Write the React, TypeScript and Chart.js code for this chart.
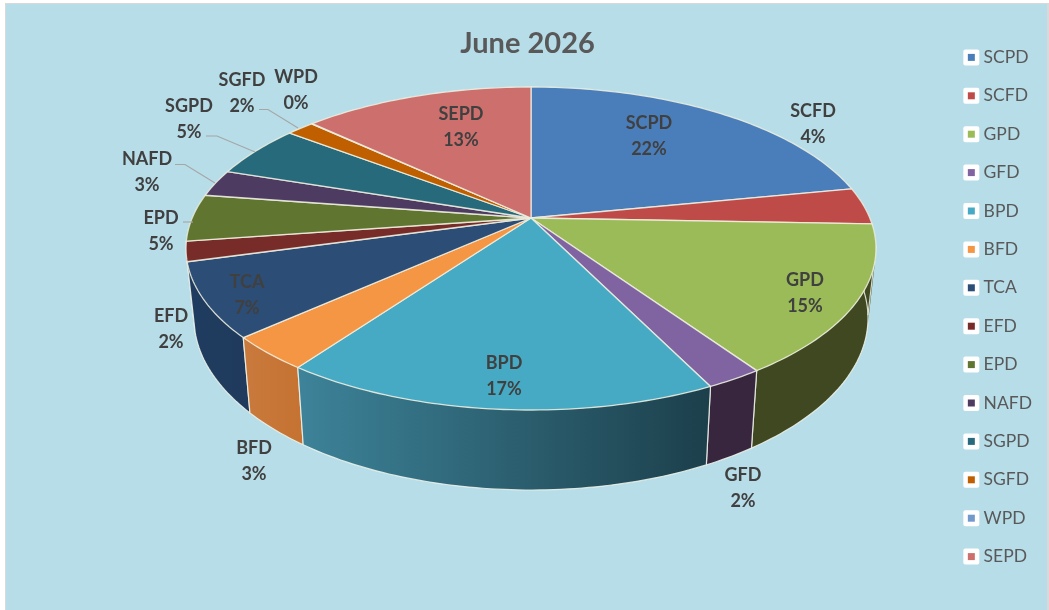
import React, { useEffect, useRef } from "react";
import { Chart, registerables } from "chart.js";

Chart.register(...registerables);

const categories = ["SCPD","SCFD","GPD","GFD","BPD","BFD","TCA","EFD","EPD","NAFD","SGPD","SGFD","WPD","SEPD"];
const shareValues = [21.9,3.7,14.9,2.25,17.15,3.4,7.4,2.0,4.7,2.7,5.3,1.55,0.05,13.0];
const sliceColors = ["#4A7EBB","#BE4B48","#9BBB59","#8064A2","#46AAC4","#F59645","#2C4D75","#772C2A","#5F7530","#4D3B62","#276A7C","#C05F00","#7299CC","#CD6F6D"];
const wallFrom = ["#2C4D75","#7A2F2D","#3F4820","#38263F","#3D8399","#C97A3C","#1F3C60","#4D1C1B","#3D4C1F","#322640","#1A4551","#7A3C00","#4A6C94","#8A4A48"];
const wallTo = ["#2C4D75","#7A2F2D","#3F4820","#38263F","#1C3F4B","#C57232","#1F3A5C","#4D1C1B","#3D4C1F","#322640","#1A4551","#7A3C00","#4A6C94","#8A4A48"];
const labelCentres = [[649,122],[813,110],[805,279],[743,474],[504,362],[254,447],[247,281],[171,315],[161,217],[147,158],[189,105],[242,79],[296,76],[461,113]];
const leaderLines = [
  [[259,109.5],[268,109.5],[298,128]],
  [[206,136],[217,136],[255,152]],
  [[175,164.5],[185,164.5],[215,183]],
  [[183,222],[193,222]],
];

const PERSP = 0.1889;
const DEG = Math.PI / 180;
const TOP_RIM = { cx: 531, cy: 248.5, rx: 345, ry: 161.5 };
const BOTTOM_RIM = { cx: 531, cy: 318, rx: 337, ry: 172 };

function project(e: any, t: number): [number, number] {
  const X = Math.sin(t), Y = -Math.cos(t), w = 1 - PERSP * Y;
  const k = Math.sqrt(1 - PERSP * PERSP);
  return [e.cx + (e.rx * k * X) / w, e.cy - e.ry * PERSP + (e.ry * k * k * Y) / w];
}
function rimPoints(e: any, a: number, b: number) {
  const n = Math.max(2, Math.ceil((b - a) / DEG));
  const pts: [number, number][] = [];
  for (let i = 0; i <= n; i++) pts.push(project(e, a + ((b - a) * i) / n));
  return pts;
}
function tracePath(ctx: any, pts: number[][]) {
  ctx.beginPath();
  pts.forEach((p, j) => (j ? ctx.lineTo(p[0], p[1]) : ctx.moveTo(p[0], p[1])));
}
function signedArea(q: number[][]) {
  let s = 0;
  q.forEach((p, i) => {
    const n = q[(i + 1) % q.length];
    s += p[0] * n[1] - n[0] * p[1];
  });
  return s;
}

const pieStage = {
  id: "pieStage",
  beforeDraw(chart: any) {
    const { ctx, width, height } = chart;
    ctx.save();
    ctx.fillStyle = "#ffffff";
    ctx.fillRect(0, 0, width, height);
    ctx.fillStyle = "#D9D9D9";
    ctx.fillRect(5, 3, width - 5, height - 3);
    ctx.fillStyle = "#B7DDE8";
    ctx.fillRect(6, 4, 1041, height - 4);
    (chart.legend?.legendHitBoxes || []).forEach((h: any) => {
      const mid = h.top + h.height / 2;
      ctx.fillStyle = "#ffffff";
      ctx.beginPath();
      ctx.roundRect(h.left + 3.5 - 8, mid - 8, 16, 16, 2);
      ctx.fill();
    });
    ctx.restore();
  },
  beforeDatasetDraw(chart: any, args: any) {
    const { ctx } = chart;
    const spans = args.meta.data.map((arc: any, i: number) => ({
      i,
      a: arc.startAngle + Math.PI / 2,
      b: arc.endAngle + Math.PI / 2,
    }));
    ctx.save();
    ctx.lineJoin = "round";
    const edge = "rgba(240,245,235,0.85)";
    const walls = spans
      .filter((s: any) => s.b > 85 * DEG && s.a < 275 * DEG)
      .sort((p: any, q: any) => Math.cos((q.a + q.b) / 2) - Math.cos((p.a + p.b) / 2));
    walls.forEach((s: any) => {
      const top = rimPoints(TOP_RIM, s.a, s.b);
      const bot = rimPoints(BOTTOM_RIM, s.a, s.b);
      const xs = top.concat(bot).map((p) => p[0]);
      const g = ctx.createLinearGradient(Math.min(...xs), 0, Math.max(...xs), 0);
      g.addColorStop(0, wallFrom[s.i]);
      g.addColorStop(1, wallTo[s.i]);
      ctx.fillStyle = g;
      ctx.beginPath();
      for (let j = 0; j < top.length - 1; j++) {
        let quad = [top[j], top[j + 1], bot[j + 1], bot[j]];
        if (signedArea(quad) < 0) quad = quad.reverse();
        quad.forEach((p, m) => (m ? ctx.lineTo(p[0], p[1]) : ctx.moveTo(p[0], p[1])));
        ctx.closePath();
      }
      ctx.fill("nonzero");
      ctx.strokeStyle = edge;
      ctx.lineWidth = 1.2;
      tracePath(ctx, [top[0], ...bot, top[top.length - 1]]);
      ctx.stroke();
    });
    // silhouette edge on the right-hand side of the wall
    ctx.strokeStyle = edge;
    ctx.lineWidth = 1.2;
    tracePath(ctx, [project(TOP_RIM, 100 * DEG), project(BOTTOM_RIM, 100 * DEG)]);
    ctx.stroke();
    // top face
    const centre = [TOP_RIM.cx, TOP_RIM.cy - TOP_RIM.ry * PERSP];
    spans.forEach((s: any) => {
      tracePath(ctx, [centre, ...rimPoints(TOP_RIM, s.a, s.b)]);
      ctx.closePath();
      ctx.fillStyle = sliceColors[s.i];
      ctx.fill();
      ctx.strokeStyle = "rgba(240,240,225,0.85)";
      ctx.lineWidth = 1.3;
      ctx.stroke();
    });
    ctx.restore();
    return false;
  },
  afterDatasetsDraw(chart: any) {
    const { ctx } = chart;
    ctx.save();
    ctx.strokeStyle = "#A6A6A6";
    ctx.lineWidth = 1.1;
    leaderLines.forEach((line) => {
      tracePath(ctx, line);
      ctx.stroke();
    });
    ctx.font = "bold 18px Lato";
    ctx.fillStyle = "#404040";
    ctx.textAlign = "center";
    ctx.textBaseline = "middle";
    categories.forEach((name, i) => {
      const [x, y] = labelCentres[i];
      ctx.fillText(name, x, y + 1.5);
      ctx.fillText(`${Math.round(shareValues[i])}%`, x, y + 27);
    });
    ctx.restore();
  },
};

export default function App() {
  const ref = useRef<HTMLCanvasElement | null>(null);
  useEffect(() => {
    const chart = new Chart(ref.current as HTMLCanvasElement, {
      type: "pie",
      data: {
        labels: categories,
        datasets: [{ data: shareValues, backgroundColor: sliceColors, clip: false } as any],
      },
      options: {
        responsive: false,
        animation: false,
        layout: { padding: { left: 13, right: 7, top: 4, bottom: 0 } },
        plugins: {
          tooltip: { enabled: false },
          title: {
            display: true,
            text: "June 2026",
            color: "#595959",
            font: { family: "Lato", size: 29, weight: "bold" },
            padding: { top: 22.5, bottom: 10 },
          },
          legend: {
            position: "right",
            labels: {
              boxWidth: 7,
              boxHeight: 7,
              padding: 20.9,
              color: "#595959",
              font: { family: "Lato", size: 17.5 },
              generateLabels: () =>
                categories.map((text, i) => ({
                  text,
                  fillStyle: sliceColors[i],
                  strokeStyle: sliceColors[i],
                  lineWidth: 0,
                  index: i,
                  hidden: false,
                  fontColor: "#595959",
                })),
            },
          },
        },
      } as any,
      plugins: [pieStage as any],
    });
    return () => chart.destroy();
  }, []);
  return (
    <div style={{ position: "fixed", left: 0, top: 0, width: 1049, height: 610, background: "#fff" }}>
      <canvas ref={ref} width={1049} height={610} style={{ display: "block" }} />
    </div>
  );
}
